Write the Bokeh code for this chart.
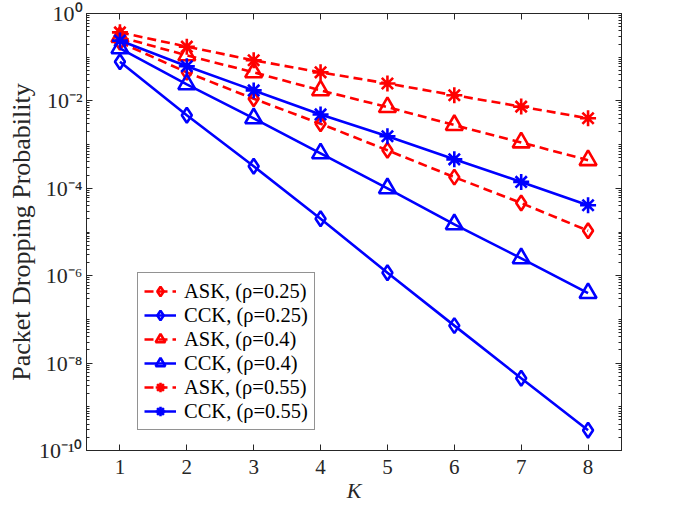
from bokeh.plotting import figure
from bokeh.models import (Range1d, FixedTicker, LogAxis, LinearAxis,
                          CustomJSTickFormatter, Legend, LegendItem)
from bokeh.embed import file_html
from bokeh.resources import INLINE

K = [1, 2, 3, 4, 5, 6, 7, 8]
ask_025 = [0.22, 0.045, 0.0112, 0.0030, 7.4e-4, 1.8e-4, 4.6e-5, 1.07e-5]
cck_025 = [0.079, 0.0047, 3.2e-4, 2.0e-5, 1.17e-6, 7.2e-8, 4.5e-9, 2.9e-10]
ask_04 = [0.29, 0.11, 0.045, 0.0174, 0.0072, 0.0028, 0.00112, 4.4e-4]
cck_04 = [0.16, 0.024, 0.004, 6.3e-4, 1.0e-4, 1.5e-5, 2.5e-6, 4.0e-7]
ask_055 = [0.37, 0.174, 0.085, 0.045, 0.025, 0.0135, 0.0074, 0.0040]
cck_055 = [0.24, 0.062, 0.0174, 0.0049, 0.00155, 4.6e-4, 1.4e-4, 4.1e-5]

labels = ["ASK, (\u03c1=0.25)", "CCK, (\u03c1=0.25)", "ASK, (\u03c1=0.4)",
          "CCK, (\u03c1=0.4)", "ASK, (\u03c1=0.55)", "CCK, (\u03c1=0.55)"]
series = [ask_025, cck_025, ask_04, cck_04, ask_055, cck_055]
markers = ["diamond", "diamond", "triangle", "triangle", "asterisk", "asterisk"]
msizes = [15, 15, 17, 17, 16, 16]
colors = ["#FF0000", "#0000FF"] * 3
dashes = ["9 5", "solid"] * 3

y_major = [10.0 ** k for k in range(-10, 1, 2)]
y_minor = [m * 10.0 ** k for k in range(-10, 0) for m in range(1, 10)
           if not (m == 1 and k % 2 == 0)]

FONT = "Liberation Serif"
AX = "#262626"

p = figure(width=685, height=512, output_backend="svg", toolbar_location=None,
           y_axis_type="log", x_range=Range1d(0.5, 8.5), y_range=Range1d(1e-10, 1),
           min_border_left=86, min_border_top=13, min_border_right=64,
           min_border_bottom=62)
p.grid.visible = False
p.outline_line_color = AX
p.background_fill_color = "white"

sup_code = """
const e = Math.round(Math.log10(tick));
const m = {'-':'\u207B','0':'\u2070','1':'\u00B9','2':'\u00B2','3':'\u00B3','4':'\u2074','5':'\u2075','6':'\u2076','7':'\u2077','8':'\u2078','9':'\u2079'};
return '10' + String(e).split('').map(c => m[c]).join('');
"""

def style(ax):
    ax.axis_line_color = AX
    ax.major_tick_line_color = AX
    ax.minor_tick_line_color = AX
    ax.major_tick_in = 6
    ax.major_tick_out = 0
    ax.minor_tick_in = 3
    ax.minor_tick_out = 0
    ax.major_label_text_font = FONT
    ax.major_label_text_font_size = "21px"
    ax.major_label_text_color = AX
    ax.axis_label_text_font = FONT
    ax.axis_label_text_color = AX
    ax.axis_label_text_font_style = "normal"

xt = FixedTicker(ticks=K, minor_ticks=[])
yt = FixedTicker(ticks=y_major, minor_ticks=y_minor)

xa = p.xaxis[0]
xa.ticker = xt
style(xa)
xa.major_label_standoff = 9
xa.axis_label = "K"
xa.axis_label_text_font_style = "italic"
xa.axis_label_text_font_size = "22px"
xa.axis_label_standoff = 1

ya = p.yaxis[0]
ya.ticker = yt
ya.formatter = CustomJSTickFormatter(code=sup_code)
style(ya)
ya.major_label_text_font_size = "22px"
ya.major_label_standoff = 4
ya.axis_label = "Packet Dropping Probability"
ya.axis_label_text_font_size = "26px"
ya.axis_label_standoff = 0

empty = CustomJSTickFormatter(code="return '';")
top = LinearAxis(ticker=xt, formatter=empty)
style(top)
top.major_label_standoff = 0
top.major_label_text_font_size = "0px"
right = LogAxis(ticker=yt, formatter=empty)
style(right)
right.major_label_standoff = 0
right.major_label_text_font_size = "0px"
p.add_layout(top, "above")
p.add_layout(right, "right")

items = []
for lab, ys, mk, ms, c, d in zip(labels, series, markers, msizes, colors, dashes):
    lr = p.line(K, ys, line_color=c, line_width=2.6, line_dash=d)
    sr = p.scatter(K, ys, marker=mk, size=ms, line_color=c, line_width=2.6,
                   fill_color=None)
    items.append(LegendItem(label=lab, renderers=[lr, sr]))

legend = Legend(items=items, location=(51, 20))
legend.label_text_font = FONT
legend.label_text_font_size = "20.5px"
legend.label_text_color = "black"
legend.border_line_color = AX
legend.border_line_width = 1
legend.background_fill_alpha = 1.0
legend.glyph_width = 32
legend.glyph_height = 24
legend.label_height = 24
legend.spacing = 0
legend.padding = 6
legend.margin = 0
legend.label_standoff = 8
p.add_layout(legend)

open("out.html", "w").write(file_html(p, INLINE))
